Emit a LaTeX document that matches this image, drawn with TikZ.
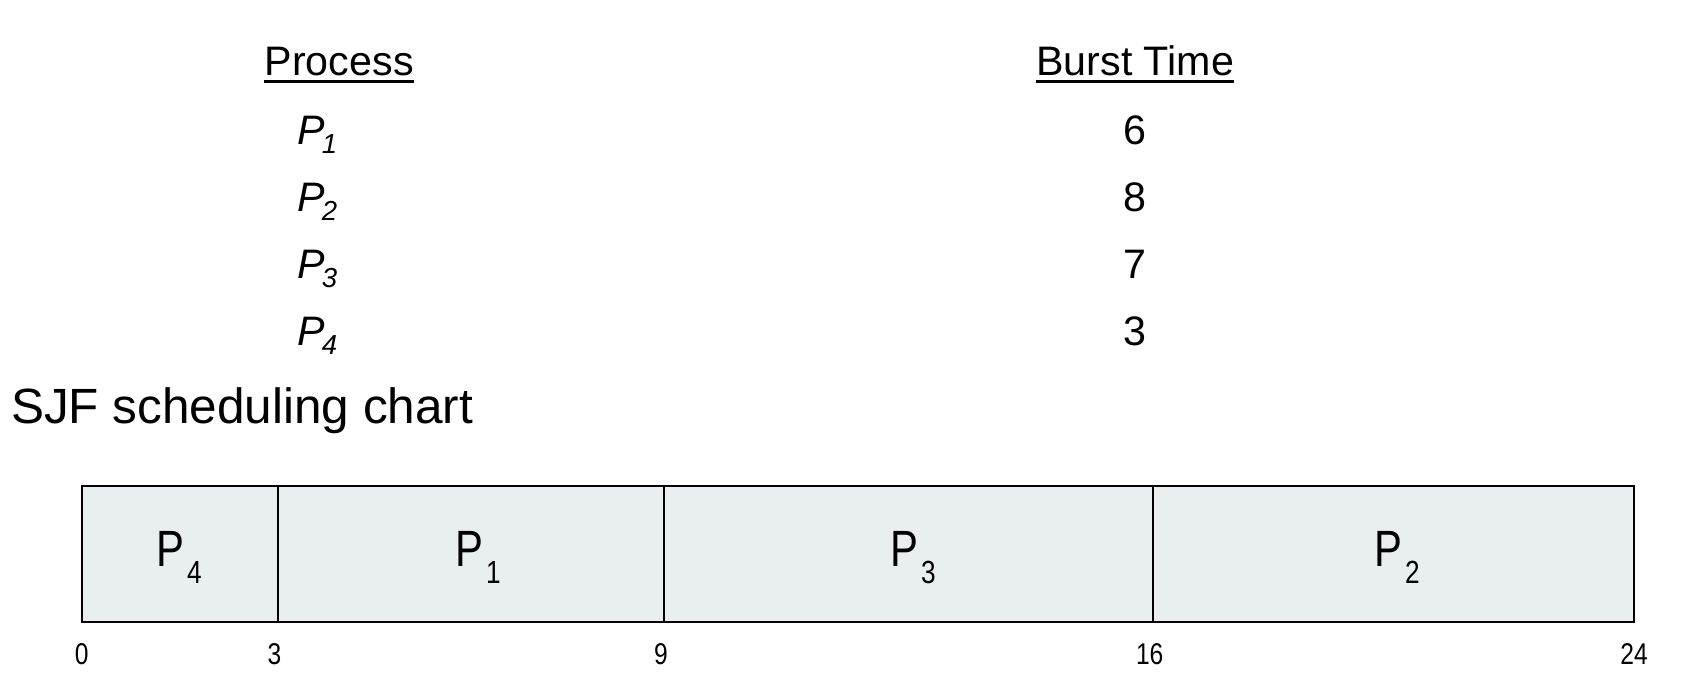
\documentclass[tikz,border=0pt]{standalone}
\usepackage{fontspec}
\setmainfont{Liberation Sans}
\newfontfamily\condfont[FakeStretch=0.82]{Liberation Sans}
\definecolor{cellfill}{RGB}{233,239,239}
\begin{document}
\begin{tikzpicture}[x=0.5pt,y=-0.5pt,
  hdr/.style={inner sep=0, anchor=base, font=\fontsize{20.6}{24}\selectfont},
  ulline/.style={line width=1.35pt},
  proc/.style={inner sep=0, anchor=base west, font=\fontsize{20.6}{24}\selectfont\itshape},
  burst/.style={inner sep=0, anchor=base, font=\fontsize{20.6}{24}\selectfont},
  title/.style={inner sep=0, anchor=base west, font=\fontsize{24.75}{30}\selectfont},
  cell/.style={fill=cellfill, draw=black, line width=1pt},
  clab/.style={inner sep=0, anchor=base, font=\condfont\fontsize{25.5}{30}\selectfont},
  tick/.style={inner sep=0, anchor=base, font=\condfont\fontsize{15}{18}\selectfont}]
\useasboundingbox[fill=white] (0,0) rectangle (1688,690);
% table headers
\node[hdr] (hproc) at (339.2,75.7) {Process};
\node[hdr] (hburst) at (1135.2,75.7) {Burst Time};
\draw[ulline] ([yshift=-2.8pt]hproc.base west) -- ([yshift=-2.8pt]hproc.base east);
\draw[ulline] ([yshift=-2.8pt]hburst.base west) -- ([yshift=-2.8pt]hburst.base east);
% process rows
\node[proc] (p1) at (297,145) {P\kern-1.5pt\raisebox{-4.5pt}{\fontsize{13.75}{16}\selectfont 1}};
\node[proc] (p2) at (297,212) {P\kern-1.5pt\raisebox{-4.5pt}{\fontsize{13.75}{16}\selectfont 2}};
\node[proc] (p3) at (297,278.5) {P\kern-1.5pt\raisebox{-4.5pt}{\fontsize{13.75}{16}\selectfont 3}};
\node[proc] (p4) at (297,345) {P\kern-1.5pt\raisebox{-4.5pt}{\fontsize{13.75}{16}\selectfont 4}};
\node[burst] (b1) at (1135.3,145) {6};
\node[burst] (b2) at (1135.3,212) {8};
\node[burst] (b3) at (1135.3,278.5) {7};
\node[burst] (b4) at (1135.3,345) {3};
% title
\node[title] (sjf) at (10.6,423) {SJF scheduling chart};
% gantt chart
\path[cell] (81.8,485.5) rectangle (277.7,622.2);
\path[cell] (277.7,485.5) rectangle (664.2,622.2);
\path[cell] (664.2,485.5) rectangle (1152.9,622.2);
\path[cell] (1152.9,485.5) rectangle (1634.1,622.2);
\node[clab] (g4) at (179,566) {P\kern1.5pt\raisebox{-8.5pt}{\fontsize{16}{18}\selectfont 4}};
\node[clab] (g1) at (478,566) {P\kern1.5pt\raisebox{-8.5pt}{\fontsize{16}{18}\selectfont 1}};
\node[clab] (g3) at (913,566) {P\kern1.5pt\raisebox{-8.5pt}{\fontsize{16}{18}\selectfont 3}};
\node[clab] (g2) at (1397,566) {P\kern1.5pt\raisebox{-8.5pt}{\fontsize{16}{18}\selectfont 2}};
% time ticks
\node[tick] (t0) at (81.8,664.3) {0};
\node[tick] (t3) at (274.5,664.3) {3};
\node[tick] (t9) at (661,664.3) {9};
\node[tick] (t16) at (1149.7,664.3) {16};
\node[tick] (t24) at (1634.1,664.3) {24};
\end{tikzpicture}
\end{document}
